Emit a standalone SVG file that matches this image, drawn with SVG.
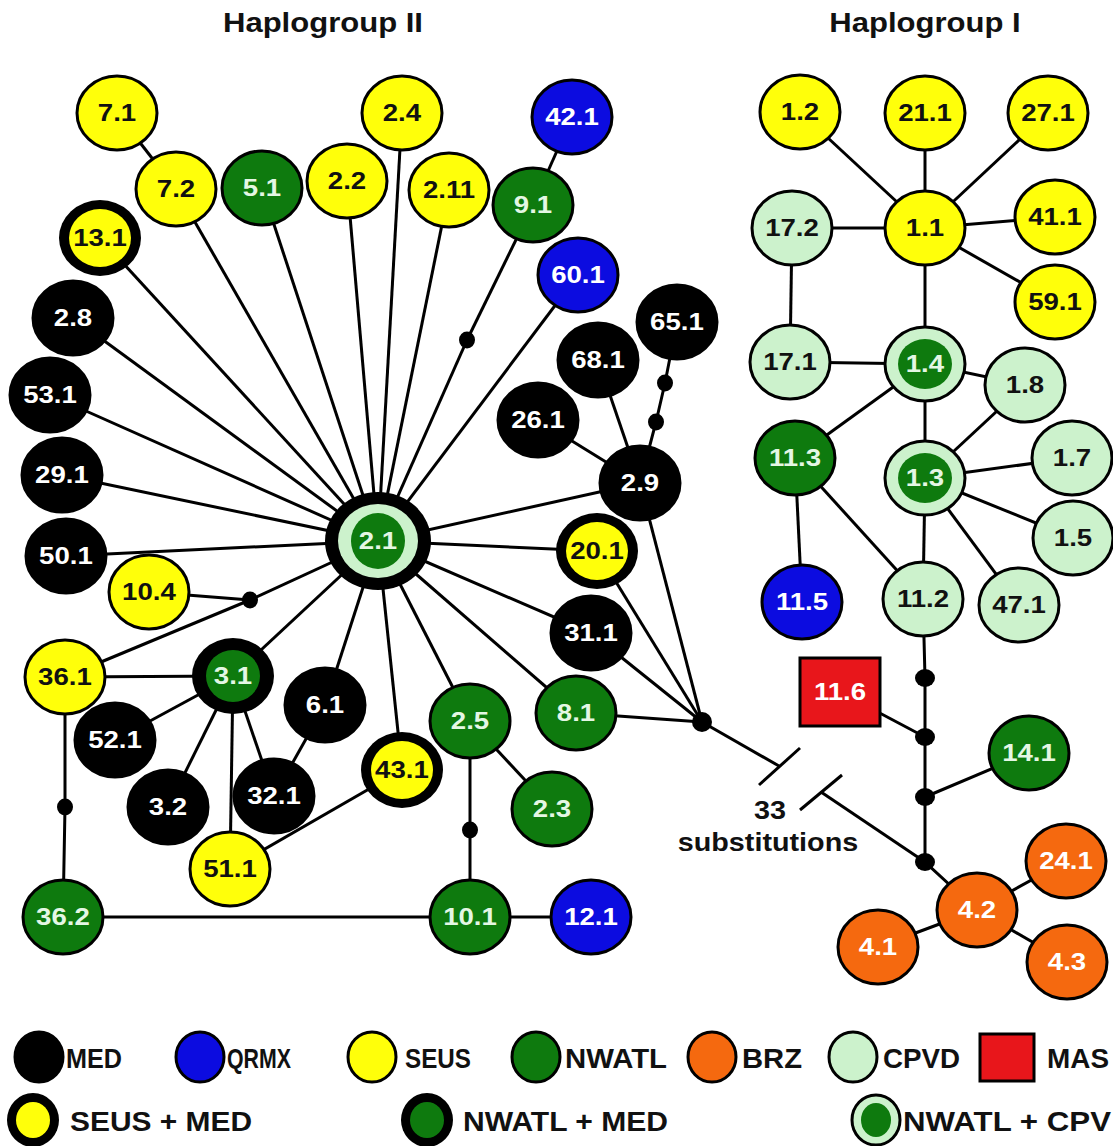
<svg xmlns="http://www.w3.org/2000/svg" width="1113" height="1146" viewBox="0 0 1113 1146">
<style>
.e{stroke:#000;stroke-width:3}
.ring{fill:#000}
.med{fill:#000}
.qrmx{fill:#0c0ce0}
.seus{fill:#ffff0a}
.nwatl{fill:#0e7a0e}
.brz{fill:#f5690f}
.cpvd{fill:#ccf2cc}
.mas{fill:#e8161b}
.lbl{font-family:"Liberation Sans",Arial,sans-serif;font-weight:bold;font-size:24px;text-anchor:middle;transform-box:fill-box;transform-origin:center;transform:scaleX(1.15)}
.w{fill:#fff}
.g{fill:#e4f7e4}
.k{fill:#111}
.edge{stroke:#000;stroke-width:3;fill:none}
.dot{fill:#000}
.title{font-family:"Liberation Sans",Arial,sans-serif;font-weight:bold;font-size:27px;text-anchor:middle;fill:#111;transform-box:fill-box;transform-origin:center;transform:scaleX(1.15)}
.leg{font-family:"Liberation Sans",Arial,sans-serif;font-weight:bold;font-size:28px;fill:#111}
</style>
<rect width="1113" height="1146" fill="#fff"/>
<text class="title" x="323" y="32">Haplogroup II</text>
<text class="title" x="925" y="32">Haplogroup I</text>

<g id="connectors">
<line class="edge" x1="378" y1="541" x2="176" y2="189"/>
<line class="edge" x1="378" y1="541" x2="100" y2="238"/>
<line class="edge" x1="378" y1="541" x2="262" y2="188"/>
<line class="edge" x1="378" y1="541" x2="347" y2="181"/>
<line class="edge" x1="378" y1="541" x2="402" y2="113"/>
<line class="edge" x1="378" y1="541" x2="449" y2="190"/>
<line class="edge" x1="378" y1="541" x2="467" y2="340"/>
<line class="edge" x1="378" y1="541" x2="578" y2="275"/>
<line class="edge" x1="378" y1="541" x2="73" y2="318"/>
<line class="edge" x1="378" y1="541" x2="50" y2="395"/>
<line class="edge" x1="378" y1="541" x2="62" y2="475"/>
<line class="edge" x1="378" y1="541" x2="66" y2="556"/>
<line class="edge" x1="378" y1="541" x2="640" y2="483"/>
<line class="edge" x1="378" y1="541" x2="597" y2="551"/>
<line class="edge" x1="378" y1="541" x2="591" y2="633"/>
<line class="edge" x1="378" y1="541" x2="576" y2="713"/>
<line class="edge" x1="378" y1="541" x2="470" y2="721"/>
<line class="edge" x1="378" y1="541" x2="402" y2="770"/>
<line class="edge" x1="378" y1="541" x2="325" y2="705"/>
<line class="edge" x1="378" y1="541" x2="233" y2="676"/>
<line class="edge" x1="378" y1="541" x2="250" y2="600"/>
<line class="edge" x1="117" y1="113" x2="176" y2="189"/>
<line class="edge" x1="572" y1="117" x2="533" y2="205"/>
<line class="edge" x1="533" y1="205" x2="467" y2="340"/>
<line class="edge" x1="640" y1="483" x2="538" y2="420"/>
<line class="edge" x1="640" y1="483" x2="598" y2="360"/>
<polyline class="edge" points="677,322 665,383 656,422 640,483"/>
<line class="edge" x1="640" y1="483" x2="702" y2="722"/>
<line class="edge" x1="597" y1="551" x2="702" y2="722"/>
<line class="edge" x1="591" y1="633" x2="702" y2="722"/>
<line class="edge" x1="576" y1="713" x2="702" y2="722"/>
<line class="edge" x1="149" y1="592" x2="250" y2="600"/>
<line class="edge" x1="65" y1="677" x2="250" y2="600"/>
<line class="edge" x1="65" y1="677" x2="233" y2="676"/>
<line class="edge" x1="233" y1="676" x2="115" y2="740"/>
<line class="edge" x1="233" y1="676" x2="168" y2="807"/>
<line class="edge" x1="233" y1="676" x2="230" y2="869"/>
<line class="edge" x1="233" y1="676" x2="274" y2="796"/>
<line class="edge" x1="274" y1="796" x2="325" y2="705"/>
<line class="edge" x1="230" y1="869" x2="402" y2="770"/>
<polyline class="edge" points="65,677 65,807 63,917"/>
<line class="edge" x1="63" y1="917" x2="470" y2="917"/>
<line class="edge" x1="470" y1="917" x2="591" y2="917"/>
<polyline class="edge" points="470,721 470,830 470,917"/>
<line class="edge" x1="470" y1="721" x2="552" y2="809"/>
<line class="edge" x1="702" y1="722" x2="779" y2="766"/>
<line class="edge" x1="759" y1="785" x2="800" y2="748"/>
<line class="edge" x1="800" y1="810" x2="842" y2="775"/>
<line class="edge" x1="821" y1="792" x2="925" y2="862"/>
<line class="edge" x1="925" y1="228" x2="800" y2="112"/>
<line class="edge" x1="925" y1="228" x2="925" y2="113"/>
<line class="edge" x1="925" y1="228" x2="1048" y2="113"/>
<line class="edge" x1="925" y1="228" x2="1055" y2="217"/>
<line class="edge" x1="925" y1="228" x2="1055" y2="302"/>
<line class="edge" x1="925" y1="228" x2="792" y2="228"/>
<line class="edge" x1="925" y1="228" x2="925" y2="364"/>
<line class="edge" x1="792" y1="228" x2="790" y2="362"/>
<line class="edge" x1="790" y1="362" x2="925" y2="364"/>
<line class="edge" x1="925" y1="364" x2="1025" y2="385"/>
<line class="edge" x1="925" y1="364" x2="795" y2="458"/>
<line class="edge" x1="925" y1="364" x2="925" y2="478"/>
<line class="edge" x1="925" y1="478" x2="1025" y2="385"/>
<line class="edge" x1="925" y1="478" x2="1072" y2="458"/>
<line class="edge" x1="925" y1="478" x2="1073" y2="538"/>
<line class="edge" x1="925" y1="478" x2="1019" y2="605"/>
<line class="edge" x1="925" y1="478" x2="923" y2="599"/>
<line class="edge" x1="795" y1="458" x2="923" y2="599"/>
<line class="edge" x1="795" y1="458" x2="802" y2="602"/>
<polyline class="edge" points="923,599 925,678 925,737 925,797 925,862 977,910"/>
<line class="edge" x1="840" y1="692" x2="925" y2="737"/>
<line class="edge" x1="1029" y1="753" x2="925" y2="797"/>
<line class="edge" x1="977" y1="910" x2="1066" y2="861"/>
<line class="edge" x1="977" y1="910" x2="878" y2="947"/>
<line class="edge" x1="977" y1="910" x2="1067" y2="962"/>
<ellipse class="dot" cx="467" cy="340" rx="8" ry="8.5"/>
<ellipse class="dot" cx="665" cy="383" rx="8" ry="8.5"/>
<ellipse class="dot" cx="656" cy="422" rx="8" ry="8.5"/>
<ellipse class="dot" cx="250" cy="600" rx="8" ry="8.5"/>
<ellipse class="dot" cx="65" cy="807" rx="8" ry="8.5"/>
<ellipse class="dot" cx="470" cy="830" rx="8" ry="8.5"/>
<ellipse class="dot" cx="702" cy="722" rx="10" ry="10"/>
<ellipse class="dot" cx="925" cy="678" rx="10" ry="9"/>
<ellipse class="dot" cx="925" cy="737" rx="10" ry="9"/>
<ellipse class="dot" cx="925" cy="797" rx="10" ry="9"/>
<ellipse class="dot" cx="925" cy="862" rx="10" ry="9"/>
</g>

<g id="n2_1"><ellipse class="ring" cx="378" cy="541" rx="53" ry="49"/><ellipse class="cpvd" cx="378" cy="541" rx="40" ry="37"/><ellipse class="nwatl" cx="378" cy="541" rx="27" ry="28"/><text class="lbl g" x="378" y="549">2.1</text></g>
<g id="n7_1"><ellipse class="e seus" cx="117" cy="113" rx="40" ry="37"/><text class="lbl k" x="117" y="121">7.1</text></g>
<g id="n7_2"><ellipse class="e seus" cx="176" cy="189" rx="40" ry="37"/><text class="lbl k" x="176" y="197">7.2</text></g>
<g id="n5_1"><ellipse class="e nwatl" cx="262" cy="188" rx="40" ry="37"/><text class="lbl g" x="262" y="196">5.1</text></g>
<g id="n2_2"><ellipse class="e seus" cx="347" cy="181" rx="40" ry="37"/><text class="lbl k" x="347" y="189">2.2</text></g>
<g id="n2_4"><ellipse class="e seus" cx="402" cy="113" rx="40" ry="37"/><text class="lbl k" x="402" y="121">2.4</text></g>
<g id="n2_11"><ellipse class="e seus" cx="449" cy="190" rx="40" ry="37"/><text class="lbl k" x="449" y="198">2.11</text></g>
<g id="n42_1"><ellipse class="e qrmx" cx="572" cy="117" rx="40" ry="37"/><text class="lbl w" x="572" y="125">42.1</text></g>
<g id="n9_1"><ellipse class="e nwatl" cx="533" cy="205" rx="40" ry="37"/><text class="lbl g" x="533" y="213">9.1</text></g>
<g id="n13_1"><ellipse class="ring" cx="100" cy="238" rx="41" ry="38"/><ellipse class="seus" cx="100" cy="238" rx="31" ry="29"/><text class="lbl k" x="100" y="246">13.1</text></g>
<g id="n60_1"><ellipse class="e qrmx" cx="578" cy="275" rx="40" ry="37"/><text class="lbl w" x="578" y="283">60.1</text></g>
<g id="n2_8"><ellipse class="e med" cx="73" cy="318" rx="40" ry="37"/><text class="lbl w" x="73" y="326">2.8</text></g>
<g id="n65_1"><ellipse class="e med" cx="677" cy="322" rx="40" ry="37"/><text class="lbl w" x="677" y="330">65.1</text></g>
<g id="n68_1"><ellipse class="e med" cx="598" cy="360" rx="40" ry="37"/><text class="lbl w" x="598" y="368">68.1</text></g>
<g id="n53_1"><ellipse class="e med" cx="50" cy="395" rx="40" ry="37"/><text class="lbl w" x="50" y="403">53.1</text></g>
<g id="n26_1"><ellipse class="e med" cx="538" cy="420" rx="40" ry="37"/><text class="lbl w" x="538" y="428">26.1</text></g>
<g id="n29_1"><ellipse class="e med" cx="62" cy="475" rx="40" ry="37"/><text class="lbl w" x="62" y="483">29.1</text></g>
<g id="n2_9"><ellipse class="e med" cx="640" cy="483" rx="40" ry="37"/><text class="lbl w" x="640" y="491">2.9</text></g>
<g id="n50_1"><ellipse class="e med" cx="66" cy="556" rx="40" ry="37"/><text class="lbl w" x="66" y="564">50.1</text></g>
<g id="n20_1"><ellipse class="ring" cx="597" cy="551" rx="41" ry="38"/><ellipse class="seus" cx="597" cy="551" rx="31" ry="29"/><text class="lbl k" x="597" y="559">20.1</text></g>
<g id="n10_4"><ellipse class="e seus" cx="149" cy="592" rx="40" ry="37"/><text class="lbl k" x="149" y="600">10.4</text></g>
<g id="n31_1"><ellipse class="e med" cx="591" cy="633" rx="40" ry="37"/><text class="lbl w" x="591" y="641">31.1</text></g>
<g id="n36_1"><ellipse class="e seus" cx="65" cy="677" rx="40" ry="37"/><text class="lbl k" x="65" y="685">36.1</text></g>
<g id="n3_1"><ellipse class="ring" cx="233" cy="676" rx="41" ry="38"/><ellipse class="nwatl" cx="233" cy="676" rx="27" ry="26"/><text class="lbl g" x="233" y="684">3.1</text></g>
<g id="n6_1"><ellipse class="e med" cx="325" cy="705" rx="40" ry="37"/><text class="lbl w" x="325" y="713">6.1</text></g>
<g id="n2_5"><ellipse class="e nwatl" cx="470" cy="721" rx="40" ry="37"/><text class="lbl g" x="470" y="729">2.5</text></g>
<g id="n8_1"><ellipse class="e nwatl" cx="576" cy="713" rx="40" ry="37"/><text class="lbl g" x="576" y="721">8.1</text></g>
<g id="n52_1"><ellipse class="e med" cx="115" cy="740" rx="40" ry="37"/><text class="lbl w" x="115" y="748">52.1</text></g>
<g id="n3_2"><ellipse class="e med" cx="168" cy="807" rx="40" ry="37"/><text class="lbl w" x="168" y="815">3.2</text></g>
<g id="n32_1"><ellipse class="e med" cx="274" cy="796" rx="40" ry="37"/><text class="lbl w" x="274" y="804">32.1</text></g>
<g id="n43_1"><ellipse class="ring" cx="402" cy="770" rx="41" ry="38"/><ellipse class="seus" cx="402" cy="770" rx="31" ry="29"/><text class="lbl k" x="402" y="778">43.1</text></g>
<g id="n2_3"><ellipse class="e nwatl" cx="552" cy="809" rx="40" ry="37"/><text class="lbl g" x="552" y="817">2.3</text></g>
<g id="n51_1"><ellipse class="e seus" cx="230" cy="869" rx="40" ry="37"/><text class="lbl k" x="230" y="877">51.1</text></g>
<g id="n36_2"><ellipse class="e nwatl" cx="63" cy="917" rx="40" ry="37"/><text class="lbl g" x="63" y="925">36.2</text></g>
<g id="n10_1"><ellipse class="e nwatl" cx="470" cy="917" rx="40" ry="37"/><text class="lbl g" x="470" y="925">10.1</text></g>
<g id="n12_1"><ellipse class="e qrmx" cx="591" cy="917" rx="40" ry="37"/><text class="lbl w" x="591" y="925">12.1</text></g>

<g id="n1_2"><ellipse class="e seus" cx="800" cy="112" rx="40" ry="37"/><text class="lbl k" x="800" y="120">1.2</text></g>
<g id="n21_1"><ellipse class="e seus" cx="925" cy="113" rx="40" ry="37"/><text class="lbl k" x="925" y="121">21.1</text></g>
<g id="n27_1"><ellipse class="e seus" cx="1048" cy="113" rx="40" ry="37"/><text class="lbl k" x="1048" y="121">27.1</text></g>
<g id="n17_2"><ellipse class="e cpvd" cx="792" cy="228" rx="40" ry="37"/><text class="lbl k" x="792" y="236">17.2</text></g>
<g id="n1_1"><ellipse class="e seus" cx="925" cy="228" rx="40" ry="37"/><text class="lbl k" x="925" y="236">1.1</text></g>
<g id="n41_1"><ellipse class="e seus" cx="1055" cy="217" rx="40" ry="37"/><text class="lbl k" x="1055" y="225">41.1</text></g>
<g id="n59_1"><ellipse class="e seus" cx="1055" cy="302" rx="40" ry="37"/><text class="lbl k" x="1055" y="310">59.1</text></g>
<g id="n17_1"><ellipse class="e cpvd" cx="790" cy="362" rx="40" ry="37"/><text class="lbl k" x="790" y="370">17.1</text></g>
<g id="n1_4"><ellipse class="e cpvd" cx="925" cy="364" rx="40" ry="37"/><ellipse class="nwatl" cx="925" cy="364" rx="27" ry="25"/><text class="lbl g" x="925" y="372">1.4</text></g>
<g id="n1_8"><ellipse class="e cpvd" cx="1025" cy="385" rx="40" ry="37"/><text class="lbl k" x="1025" y="393">1.8</text></g>
<g id="n11_3"><ellipse class="e nwatl" cx="795" cy="458" rx="40" ry="37"/><text class="lbl g" x="795" y="466">11.3</text></g>
<g id="n1_3"><ellipse class="e cpvd" cx="925" cy="478" rx="40" ry="37"/><ellipse class="nwatl" cx="925" cy="478" rx="27" ry="25"/><text class="lbl g" x="925" y="486">1.3</text></g>
<g id="n1_7"><ellipse class="e cpvd" cx="1072" cy="458" rx="40" ry="37"/><text class="lbl k" x="1072" y="466">1.7</text></g>
<g id="n1_5"><ellipse class="e cpvd" cx="1073" cy="538" rx="40" ry="37"/><text class="lbl k" x="1073" y="546">1.5</text></g>
<g id="n11_5"><ellipse class="e qrmx" cx="802" cy="602" rx="40" ry="37"/><text class="lbl w" x="802" y="610">11.5</text></g>
<g id="n11_2"><ellipse class="e cpvd" cx="923" cy="599" rx="40" ry="37"/><text class="lbl k" x="923" y="607">11.2</text></g>
<g id="n47_1"><ellipse class="e cpvd" cx="1019" cy="605" rx="40" ry="37"/><text class="lbl k" x="1019" y="613">47.1</text></g>
<g id="n11_6"><rect class="e mas" x="800" y="658" width="80" height="68"/><text class="lbl w" x="840" y="700">11.6</text></g>
<g id="n14_1"><ellipse class="e nwatl" cx="1029" cy="753" rx="40" ry="37"/><text class="lbl g" x="1029" y="761">14.1</text></g>
<g id="n24_1"><ellipse class="e brz" cx="1066" cy="861" rx="40" ry="37"/><text class="lbl w" x="1066" y="869">24.1</text></g>
<g id="n4_2"><ellipse class="e brz" cx="977" cy="910" rx="40" ry="37"/><text class="lbl w" x="977" y="918">4.2</text></g>
<g id="n4_1"><ellipse class="e brz" cx="878" cy="947" rx="40" ry="37"/><text class="lbl w" x="878" y="955">4.1</text></g>
<g id="n4_3"><ellipse class="e brz" cx="1067" cy="962" rx="40" ry="37"/><text class="lbl w" x="1067" y="970">4.3</text></g>

<g id="break-label">
<text class="lbl k" x="770" y="819" style="font-size:25px">33</text>
<text class="lbl k" x="768" y="851" style="font-size:25px">substitutions</text>
</g>

<g id="legend">
<ellipse class="e med" cx="39" cy="1057" rx="24" ry="25"/>
<text class="leg" x="66" y="1068" textLength="56" lengthAdjust="spacingAndGlyphs">MED</text>
<ellipse class="e qrmx" cx="200" cy="1057" rx="24" ry="25"/>
<text class="leg" x="227" y="1068" textLength="64" lengthAdjust="spacingAndGlyphs">QRMX</text>
<ellipse class="e seus" cx="372" cy="1057" rx="24" ry="25"/>
<text class="leg" x="405" y="1068" textLength="66" lengthAdjust="spacingAndGlyphs">SEUS</text>
<ellipse class="e nwatl" cx="536" cy="1057" rx="24" ry="25"/>
<text class="leg" x="565" y="1068" textLength="102" lengthAdjust="spacingAndGlyphs">NWATL</text>
<ellipse class="e brz" cx="712" cy="1057" rx="24" ry="25"/>
<text class="leg" x="742" y="1068" textLength="60" lengthAdjust="spacingAndGlyphs">BRZ</text>
<ellipse class="e cpvd" cx="853" cy="1057" rx="24" ry="25"/>
<text class="leg" x="883" y="1068" textLength="77" lengthAdjust="spacingAndGlyphs">CPVD</text>
<rect class="e mas" x="980" y="1034" width="54" height="47"/>
<text class="leg" x="1047" y="1068" textLength="62" lengthAdjust="spacingAndGlyphs">MAS</text>
<ellipse class="ring" cx="33" cy="1120" rx="26" ry="27"/><ellipse class="seus" cx="33" cy="1120" rx="17" ry="18"/>
<text class="leg" x="70" y="1131" textLength="182" lengthAdjust="spacingAndGlyphs">SEUS + MED</text>
<ellipse class="ring" cx="427" cy="1120" rx="26" ry="27"/><ellipse class="nwatl" cx="427" cy="1120" rx="17" ry="18"/>
<text class="leg" x="463" y="1131" textLength="205" lengthAdjust="spacingAndGlyphs">NWATL + MED</text>
<ellipse class="e cpvd" cx="876" cy="1120" rx="24" ry="25"/><ellipse class="nwatl" cx="876" cy="1120" rx="15" ry="17"/>
<text class="leg" x="903" y="1131" textLength="208" lengthAdjust="spacingAndGlyphs">NWATL + CPV</text>
</g>
</svg>
